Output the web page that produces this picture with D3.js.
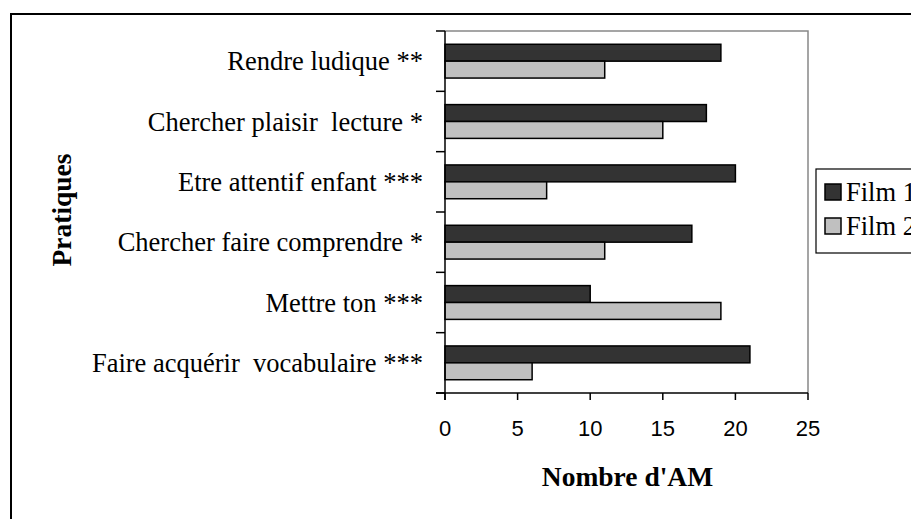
<!DOCTYPE html>
<html><head><meta charset="utf-8">
<script src="https://cdn.jsdelivr.net/npm/d3@7"></script>
<style>
body{margin:0;background:#fff;overflow:hidden}
.serif{font-family:'Liberation Serif','Times New Roman',Times,serif}
.sans{font-family:'Liberation Sans',Arial,sans-serif}
</style>
</head><body>
<svg id="c" width="911" height="519"></svg>
<script>
const categories = ["Rendre ludique **","Chercher plaisir  lecture *","Etre attentif enfant ***","Chercher faire comprendre *","Mettre ton ***","Faire acquérir  vocabulaire ***"];
const seriesNames = ["Film 1","Film 2"];
const film1 = [19,18,20,17,10,21];
const film2 = [11,15,7,11,19,6];
const xTicks = [0,5,10,15,20,25];
const colors = ["#333333","#c0c0c0"];

const svg = d3.select("#c");
const L = 445, R = 808, T = 31, B = 393;

svg.append("rect").attr("x",11).attr("y",14).attr("width",1000).attr("height",600)
  .attr("fill","none").attr("stroke","#000").attr("stroke-width",2);

const x = d3.scaleLinear().domain([0,25]).range([L,R]);
const y = d3.scaleBand().domain(categories).range([T,B]);

svg.append("path").attr("d",`M${L},${T}H${R}V${B}`).attr("fill","none").attr("stroke","#888").attr("stroke-width",1.5);

const barH = y.bandwidth()*0.28;
const data = categories.map((c,i)=>({c, vals:[film1[i],film2[i]]}));
const g = svg.append("g");
data.forEach(d=>{
  const yc = y(d.c)+y.bandwidth()/2;
  d.vals.forEach((v,j)=>{
    g.append("rect").attr("x",x(0)).attr("y",yc-barH+j*barH).attr("width",x(v)-x(0)).attr("height",barH)
      .attr("fill",colors[j]).attr("stroke","#000").attr("stroke-width",1.5);
  });
});

const yBounds = categories.map(c=>y(c)).concat([B]);
svg.append("line").attr("x1",L).attr("x2",L).attr("y1",T).attr("y2",B+7).attr("stroke","#000").attr("stroke-width",1.5);
yBounds.forEach(v=>svg.append("line").attr("x1",L-9).attr("x2",L).attr("y1",v).attr("y2",v).attr("stroke","#000").attr("stroke-width",1.5));
svg.append("line").attr("x1",L-9).attr("x2",R).attr("y1",B).attr("y2",B).attr("stroke","#000").attr("stroke-width",1.5);
xTicks.forEach(t=>{
  svg.append("line").attr("x1",x(t)).attr("x2",x(t)).attr("y1",B).attr("y2",B+7).attr("stroke","#000").attr("stroke-width",1.5);
  svg.append("text").attr("class","sans").attr("x",x(t)).attr("y",436).attr("text-anchor","middle")
    .attr("font-size",22).text(t);
});

categories.forEach(c=>{
  svg.append("text").attr("class","serif").attr("x",423).attr("y",y(c)+y.bandwidth()/2).attr("dy","0.35em").attr("text-anchor","end")
    .attr("font-size",26.5).style("white-space","pre").text(c);
});

svg.append("text").attr("class","serif").attr("x",(L+R)/2+1).attr("y",486).attr("text-anchor","middle")
  .attr("font-weight","bold").attr("font-size",27.5).text("Nombre d'AM");
svg.append("text").attr("class","serif").attr("transform",`translate(71,${(T+B)/2-2}) rotate(-90)`).attr("text-anchor","middle")
  .attr("font-weight","bold").attr("font-size",27.5).text("Pratiques");

svg.append("rect").attr("x",816).attr("y",169).attr("width",200).attr("height",84).attr("fill","#fff").attr("stroke","#000").attr("stroke-width",1.2);
seriesNames.forEach((s,i)=>{
  const yy = 184 + i*34;
  svg.append("rect").attr("x",825).attr("y",yy).attr("width",16).attr("height",16).attr("fill",colors[i]).attr("stroke","#000").attr("stroke-width",1.5);
  svg.append("text").attr("class","serif").attr("x",846).attr("y",yy+8).attr("dy","0.35em")
    .attr("font-size",26.5).text(s);
});
</script>
</body></html>
